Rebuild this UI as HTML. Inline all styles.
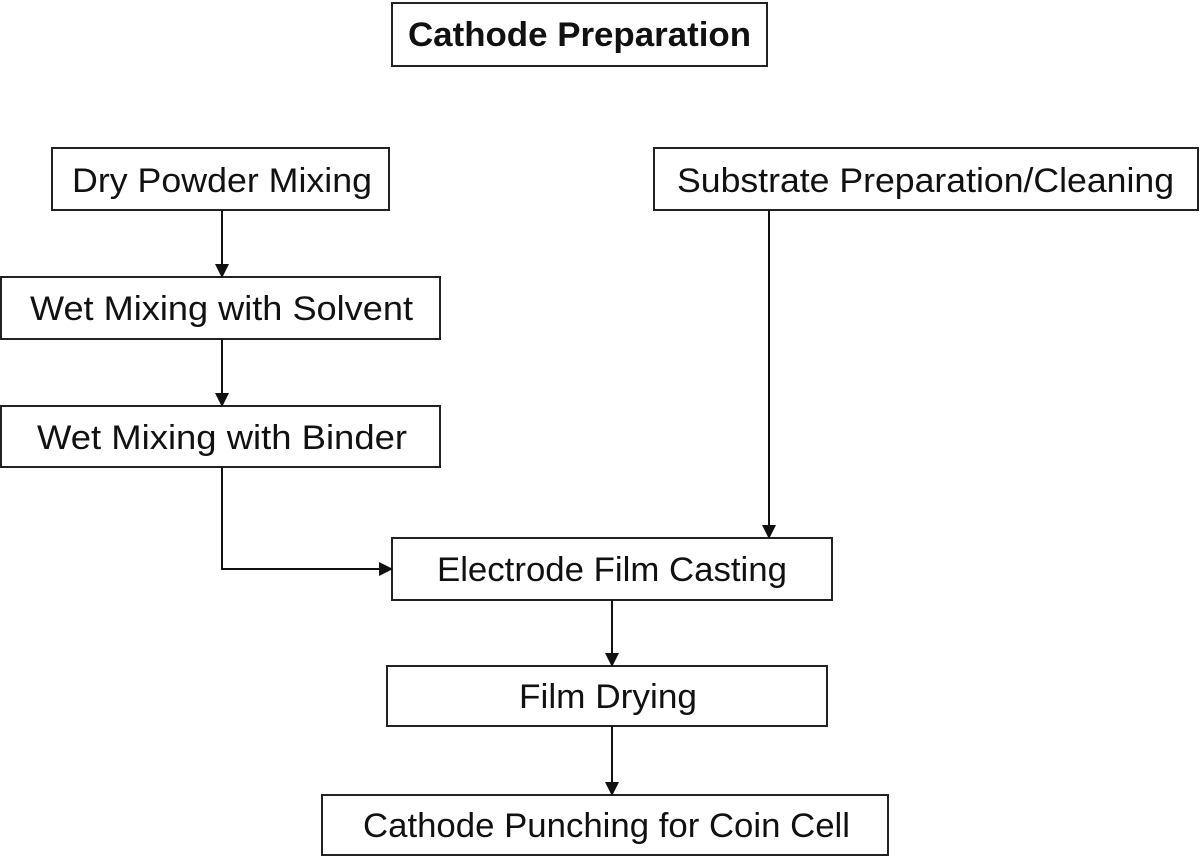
<!DOCTYPE html>
<html><head><meta charset="utf-8"><style>
html,body{margin:0;padding:0;background:#fff;}
svg{display:block;}
text{font-family:"Liberation Sans",sans-serif;font-size:34px;fill:#111;}
</style></head><body>
<svg width="1200" height="864" viewBox="0 0 1200 864" xmlns="http://www.w3.org/2000/svg">
<defs><marker id="a" markerWidth="14" markerHeight="14" refX="13" refY="7" orient="auto" markerUnits="userSpaceOnUse"><path d="M0,0 L14,7 L0,14 z" fill="#111"/></marker></defs>
<g fill="none" stroke="#222" stroke-width="2">
<rect x="392" y="3" width="375" height="63"/>
<rect x="52" y="148" width="337" height="62"/>
<rect x="654" y="148" width="544" height="62"/>
<rect x="1" y="277" width="439" height="62"/>
<rect x="1" y="406" width="439" height="61"/>
<rect x="392" y="538" width="440" height="62"/>
<rect x="387" y="666" width="440" height="60"/>
<rect x="322" y="795" width="566" height="60"/>
</g>
<g stroke="#111" stroke-width="2" fill="none" marker-end="url(#a)">
<line x1="222" y1="210" x2="222" y2="277"/>
<line x1="222" y1="339" x2="222" y2="406"/>
<polyline points="222,467 222,569 392,569"/>
<line x1="769" y1="210" x2="769" y2="538"/>
<line x1="612" y1="600" x2="612" y2="666"/>
<line x1="612" y1="726" x2="612" y2="795"/>
</g>
<text x="408" y="46" textLength="343" lengthAdjust="spacingAndGlyphs" style="font-weight:bold">Cathode  Preparation</text>
<text x="72" y="192" textLength="300" lengthAdjust="spacingAndGlyphs">Dry Powder Mixing</text>
<text x="677" y="192" textLength="497" lengthAdjust="spacingAndGlyphs">Substrate Preparation/Cleaning</text>
<text x="30" y="320" textLength="383" lengthAdjust="spacingAndGlyphs">Wet Mixing with Solvent</text>
<text x="37" y="449" textLength="370" lengthAdjust="spacingAndGlyphs">Wet Mixing with Binder</text>
<text x="437" y="581" textLength="350" lengthAdjust="spacingAndGlyphs">Electrode Film Casting</text>
<text x="519" y="708" textLength="178" lengthAdjust="spacingAndGlyphs">Film Drying</text>
<text x="363" y="837" textLength="487" lengthAdjust="spacingAndGlyphs">Cathode Punching for Coin Cell</text>
</svg>
</body></html>
